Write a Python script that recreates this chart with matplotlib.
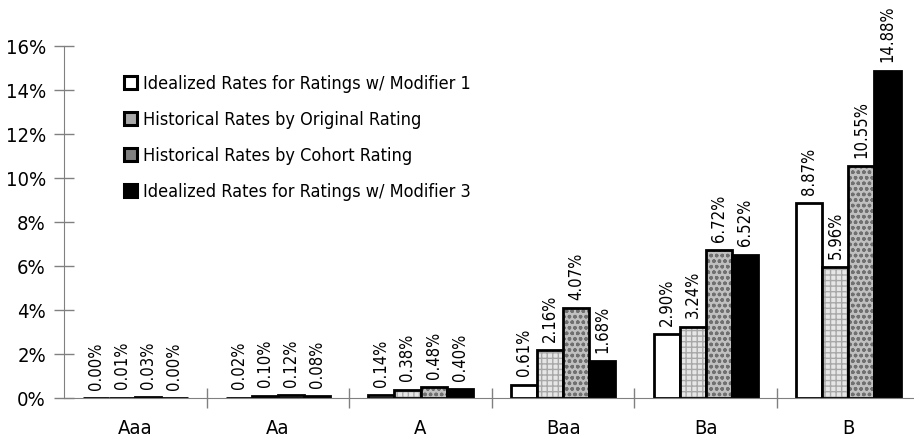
import matplotlib.pyplot as plt
import numpy as np
from matplotlib.patches import Patch

categories = ["Aaa", "Aa", "A", "Baa", "Ba", "B"]
series_names = [
    "Idealized Rates for Ratings w/ Modifier 1",
    "Historical Rates by Original Rating",
    "Historical Rates by Cohort Rating",
    "Idealized Rates for Ratings w/ Modifier 3",
]
ideal_mod1 = [0.00, 0.02, 0.14, 0.61, 2.90, 8.87]
hist_original = [0.01, 0.10, 0.38, 2.16, 3.24, 5.96]
hist_cohort = [0.03, 0.12, 0.48, 4.07, 6.72, 10.55]
ideal_mod3 = [0.00, 0.08, 0.40, 1.68, 6.52, 14.88]

plt.rcParams['font.family'] = ['DejaVu Sans']
plt.rcParams['font.stretch'] = 'condensed'
plt.rcParams['hatch.linewidth'] = 1.0

fig = plt.figure(figsize=(9.14, 4.4), dpi=100)
ax = fig.add_axes([64 / 914, 42 / 440, 850 / 914, 352 / 440])

x = np.arange(len(categories))
w = 0.183
styles = [
    dict(facecolor="white", hatch=None, hc="white", legend="white"),
    dict(facecolor="#e6e6e6", hatch="+++", hc="#a8a8a8", legend="#a8a8a8"),
    dict(facecolor="#c0c0c0", hatch="ooo", hc="#707070", legend="#808080"),
    dict(facecolor="black", hatch=None, hc="black", legend="black"),
]
all_series = [ideal_mod1, hist_original, hist_cohort, ideal_mod3]
for i, (vals, st) in enumerate(zip(all_series, styles)):
    pos = x + (i - 1.5) * w
    # fill with grey hatch, then a black outline on top
    ax.bar(pos, vals, w, facecolor=st["facecolor"], hatch=st["hatch"],
           edgecolor=st["hc"], linewidth=0)
    ax.bar(pos, vals, w, facecolor="none", edgecolor="black", linewidth=2)
    for p, v in zip(pos, vals):
        ax.annotate(f"{v:.2f}%", (p, v), xytext=(0, 6), textcoords="offset points",
                    rotation=90, ha="center", va="bottom", fontsize=12)

handles = [Patch(facecolor=st["legend"], edgecolor="black", linewidth=2.2, label=name)
           for st, name in zip(styles, series_names)]

ax.set_ylim(0, 16)
ax.set_xlim(-0.5, 5.46)
ax.set_yticks(np.arange(0, 17, 2))
ax.set_yticklabels([f"{v}%" for v in range(0, 17, 2)], fontsize=14.5)
ax.set_xticks(x)
ax.set_xticklabels(categories, fontsize=14.5)
ax.tick_params(axis="x", length=0, pad=15)
ax.set_xticks(np.arange(0.5, 5.5, 1), minor=True)
ax.tick_params(axis="x", which="minor", length=14, width=1, color="#808080", direction="inout")
ax.tick_params(axis="y", length=14, width=1, direction="inout", color="#808080", pad=6)
for s in ["top", "right"]:
    ax.spines[s].set_visible(False)
ax.spines["left"].set_color("#808080")
ax.spines["bottom"].set_color("#808080")

ax.legend(handles=handles, loc="upper left", bbox_to_anchor=(0.052, 0.965), frameon=False,
          fontsize=13, labelspacing=1.0, handlelength=0.7, handleheight=0.7,
          handletextpad=0.35)

fig.savefig("out.png", dpi=100)
